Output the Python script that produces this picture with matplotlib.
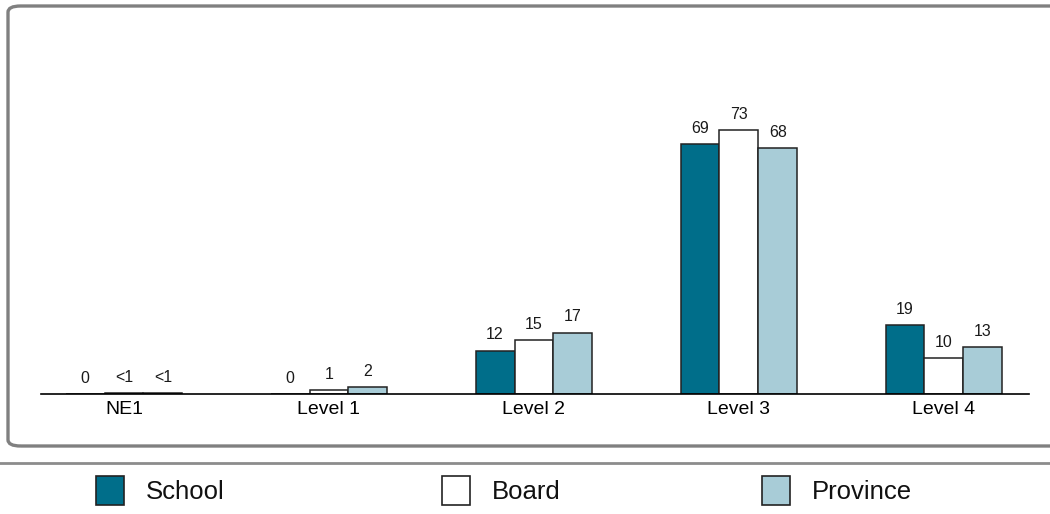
import numpy as np
import matplotlib
matplotlib.use("Agg")
import matplotlib.pyplot as plt
from matplotlib.patches import FancyBboxPatch, Rectangle
from matplotlib.lines import Line2D

plt.rcParams['font.family'] = ['Liberation Sans', 'DejaVu Sans']

categories = ["NE1", "Level 1", "Level 2", "Level 3", "Level 4"]
series = ["School", "Board", "Province"]
school = [0, 0, 12, 69, 19]
board = [0.3, 1, 15, 73, 10]
province = [0.3, 2, 17, 68, 13]
school_labels = ["0", "0", "12", "69", "19"]
board_labels = ["<1", "1", "15", "73", "10"]
province_labels = ["<1", "2", "17", "68", "13"]
colors = ["#006e8a", "#ffffff", "#a8ccd7"]

W, H = 1050, 514
fig = plt.figure(figsize=(W / 100, H / 100), dpi=100)

# rounded frame around the chart (runs off the right edge)
frame = FancyBboxPatch((8 / W, (H - 446) / H), (1080 - 8) / W, (446 - 6) / H,
                       boxstyle="round,pad=0,rounding_size=0.012",
                       transform=fig.transFigure, facecolor="none",
                       edgecolor="#808080", linewidth=2.4)
fig.patches.append(frame)
fig.add_artist(Line2D([0, 1], [(H - 463) / H] * 2, transform=fig.transFigure,
                      color="#8c8c8c", linewidth=2))

ax = fig.add_axes([41 / W, (H - 394) / H, 988 / W, (394 - 20) / H])
ax.patch.set_alpha(0)
x = np.arange(len(categories))
w = 0.19
data = [school, board, province]
labels = [school_labels, board_labels, province_labels]
for i, (vals, labs) in enumerate(zip(data, labels)):
    xs = x + (i - 1) * w
    ax.bar(xs, vals, width=w, color=colors[i], edgecolor="#222222", linewidth=1.1)
    for xi, v, t in zip(xs, vals, labs):
        ax.annotate(t, (xi, v), xytext=(0, 8), textcoords="offset points",
                    ha="center", va="baseline", fontsize=11.5, color="#1a1a1a")

ax.set_xlim(-0.405, 4.415)
ax.set_ylim(0, (394 - 20) / 3.616)
ax.set_xticks(x)
ax.set_xticklabels(categories, fontsize=14)
ax.tick_params(axis="x", length=0, pad=5)
ax.set_yticks([])
for s in ["top", "right", "left"]:
    ax.spines[s].set_visible(False)
ax.spines["bottom"].set_linewidth(1.2)

# legend
leg_x = [96, 442, 762]
for i, name in enumerate(series):
    fig.add_artist(Rectangle((leg_x[i] / W, (H - 505) / H), 28 / W, 29 / H,
                             transform=fig.transFigure, facecolor=colors[i],
                             edgecolor="#222222", linewidth=1.2))
    fig.text((leg_x[i] + 50) / W, (H - 492) / H, name, fontsize=18.5,
             va="center", ha="left", color="#111111")

fig.savefig("out.png", dpi=100)
